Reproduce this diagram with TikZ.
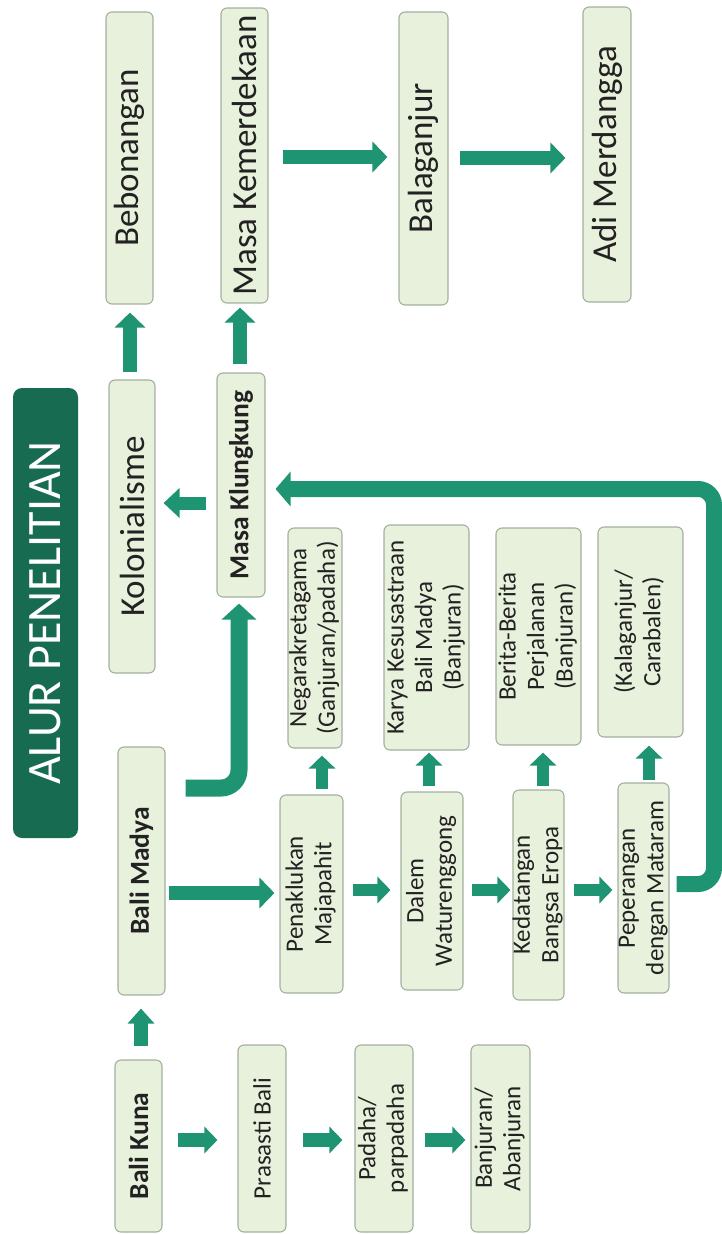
\documentclass[tikz,border=0pt]{standalone}
\usepackage{fontspec}
\setmainfont{Carlito}
\usetikzlibrary{arrows.meta,calc}
\definecolor{arrowgreen}{HTML}{1E9473}
\definecolor{titlegreen}{HTML}{176B50}
\definecolor{boxfill}{HTML}{E8F1DC}
\definecolor{boxline}{HTML}{A2B09E}
\definecolor{textdark}{HTML}{222222}
\newcommand{\rt}[1]{\makebox[0pt]{\rotatebox{90}{#1}}}
\newcommand{\rtl}[1]{\makebox[0pt]{\rotatebox{90}{\begin{tabular}{@{}c@{}}#1\end{tabular}}}}
\begin{document}
\begin{tikzpicture}[x=1pt,y=-1pt,
  box/.style={draw=boxline, fill=boxfill, line width=1.1pt, rounded corners=6pt, inner sep=0pt, text=textdark},
  bigbox/.style={box, font=\fontsize{35}{40}\selectfont},
  boldbox/.style={box, font=\bfseries\fontsize{27.5}{32}\selectfont},
  smallbox/.style={box, font=\fontsize{25}{28.5}\selectfont},
  titlebox/.style={fill=titlegreen, rounded corners=9pt, inner sep=0pt, text=white, font=\fontsize{48}{56}\selectfont},
  arr/.style={draw=arrowgreen, line width=14pt, -{Triangle[length=15pt,width=30pt]}},
  sarr/.style={draw=arrowgreen, line width=12.5pt, -{Triangle[length=13pt,width=26pt]}}
]
\useasboundingbox (0,0) rectangle (722,1234);

% top row
\node[bigbox, minimum width=47pt, minimum height=292pt] (beb) at (129.5,158) {\rt{Bebonangan}};
\node[bigbox, minimum width=47pt, minimum height=295pt] (mkem) at (244.5,155.5) {\rt{Masa Kemerdekaan}};
\node[bigbox, minimum width=49pt, minimum height=293pt] (bala) at (423.5,158.5) {\rt{Balaganjur}};
\node[bigbox, minimum width=48pt, minimum height=295pt] (adi) at (607,154.5) {\rt{Adi Merdangga}};

% title
\node[titlebox, minimum width=65pt, minimum height=450pt] (title) at (45.5,613) {\rt{ALUR PENELITIAN}};

% middle
\node[bigbox, minimum width=46pt, minimum height=293pt] (kol) at (132,526.5) {\rt{Kolonialisme}};
\node[boldbox, minimum width=48pt, minimum height=224pt] (mk) at (241,485) {\rt{Masa Klungkung}};
\node[smallbox, minimum width=54pt, minimum height=220pt] (neg) at (315,638) {\rtl{Negarakretagama\\(Ganjuran/padaha)}};
\node[smallbox, minimum width=85pt, minimum height=225pt] (kar) at (426.5,637.5) {\rtl{Karya Kesusastraan\\Bali Madya\\(Banjuran)}};
\node[smallbox, minimum width=85pt, minimum height=217pt] (ber) at (538.5,636.5) {\rtl{Berita-Berita\\Perjalanan\\(Banjuran)}};
\node[smallbox, minimum width=85pt, minimum height=210pt] (kal) at (640.5,632) {\rtl{(Kalaganjur/\\Carabalen)}};

% Bali Madya row
\node[boldbox, minimum width=47pt, minimum height=248pt] (bm) at (141.5,871) {\rt{Bali Madya}};
\node[smallbox, minimum width=63pt, minimum height=198pt] (pen) at (311.5,894) {\rtl{Penaklukan\\Majapahit}};
\node[smallbox, minimum width=62pt, minimum height=198pt] (dal) at (432,891) {\rtl{Dalem\\Waturenggong}};
\node[smallbox, minimum width=51pt, minimum height=210pt] (ked) at (538.5,895) {\rtl{Kedatangan\\Bangsa Eropa}};
\node[smallbox, minimum width=51pt, minimum height=210pt] (pep) at (643.5,888) {\rtl{Peperangan\\dengan Mataram}};

% Bali Kuna row
\node[boldbox, minimum width=47pt, minimum height=172pt] (bk) at (138.5,1146) {\rt{Bali Kuna}};
\node[smallbox, minimum width=48pt, minimum height=187pt] (pra) at (262,1138.5) {\rt{Prasasti Bali}};
\node[smallbox, minimum width=58pt, minimum height=187pt] (pad) at (384,1138.5) {\rtl{Padaha/\\parpadaha}};
\node[smallbox, minimum width=59pt, minimum height=187pt] (ban) at (500.5,1138.5) {\rtl{Banjuran/\\Abanjuran}};

% arrows top
\draw[arr, shorten <=7pt, shorten >=8pt] (kol.north -| 130,0) -- (beb.south -| 130,0);
\draw[arr, shorten <=8pt, shorten >=4pt] (mk.north -| 240,0) -- (mkem.south -| 240,0);
\draw[arr, shorten <=14pt, shorten >=11pt] (mkem.east |- 0,157) -- (bala.west |- 0,157);
\draw[arr, shorten <=11pt, shorten >=17pt] (bala.east |- 0,158) -- (adi.west |- 0,158);

% middle arrows
\draw[arr, line width=13pt, -{Triangle[length=16pt,width=29pt]}, shorten <=10pt, shorten >=8pt] (mk.west |- 0,503) -- (kol.east |- 0,503);
\draw[arr, line width=16pt, -{Triangle[length=15pt,width=34pt]}, rounded corners=16pt, shorten <=7pt, shorten >=10pt]
  (pep.east |- 0,884) -- (714,884) -- (714,489) -- (mk.east |- 0,489);
\draw[arr, line width=17pt, -{Triangle[length=16pt,width=34pt]}, rounded corners=18pt, shorten <=20pt, shorten >=6pt]
  (bm.east |- 0,788) -- (239,788) -- (mk.south -| 239,0);

% Bali Madya row arrows
\draw[arr, shorten <=3pt, shorten >=5pt] (bm.east |- 0,893) -- (pen.west |- 0,893);
\draw[sarr, shorten <=9pt, shorten >=10pt] (pen.east |- 0,890) -- (dal.west |- 0,890);
\draw[sarr, shorten <=8pt, shorten >=2pt] (dal.east |- 0,890) -- (ked.west |- 0,890);
\draw[sarr, shorten <=9pt, shorten >=5pt] (ked.east |- 0,890) -- (pep.west |- 0,890);

% upward small arrows
\draw[sarr, shorten <=5pt, shorten >=7pt] (pen.north -| 322,0) -- (neg.south -| 322,0);
\draw[sarr, shorten <=5pt, shorten >=2pt] (dal.north -| 429,0) -- (kar.south -| 429,0);
\draw[sarr, shorten <=3pt, shorten >=7pt] (ked.north -| 543,0) -- (ber.south -| 543,0);
\draw[sarr, shorten <=2pt, shorten >=8pt] (pep.north -| 649,0) -- (kal.south -| 649,0);

% Bali Kuna arrows
\draw[sarr, line width=14pt, -{Triangle[length=15pt,width=26pt]}, shorten <=13pt, shorten >=13pt] (bk.north -| 141,0) -- (bm.south -| 141,0);
\draw[sarr, line width=14pt, shorten <=15pt, shorten >=20pt] (bk.east |- 0,1140) -- (pra.west |- 0,1140);
\draw[sarr, line width=14pt, shorten <=16pt, shorten >=12pt] (pra.east |- 0,1140) -- (pad.west |- 0,1140);
\draw[sarr, line width=14pt, shorten <=11pt, shorten >=5pt] (pad.east |- 0,1140) -- (ban.west |- 0,1140);
\end{tikzpicture}
\end{document}
